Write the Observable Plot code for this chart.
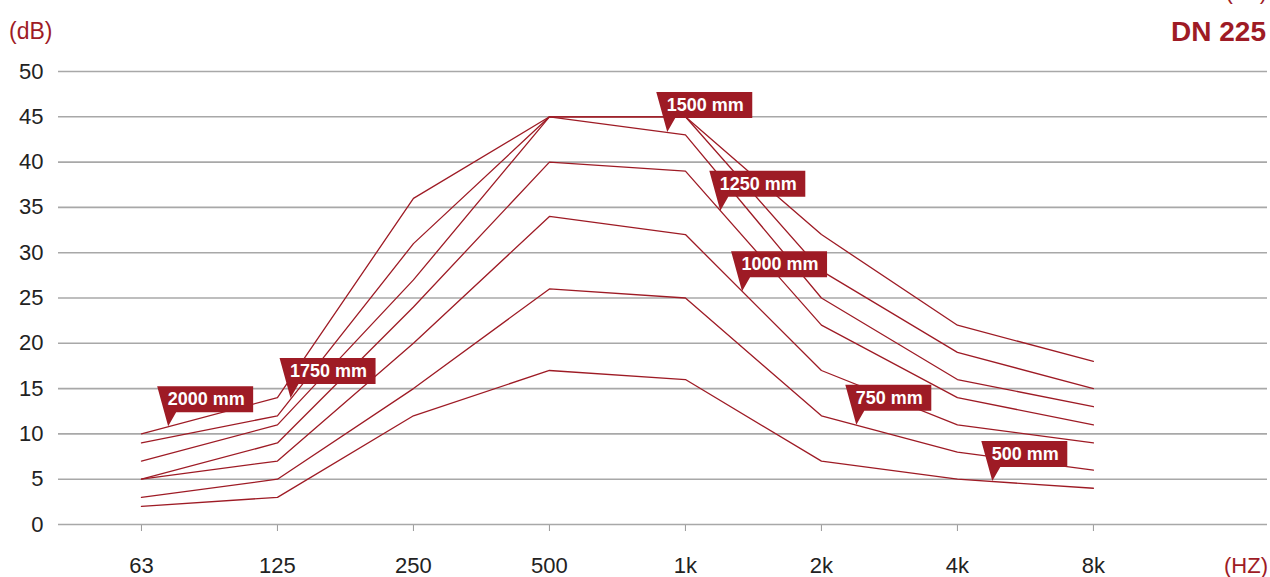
<!DOCTYPE html>
<html>
<head>
<meta charset="utf-8">
<script src="https://cdn.jsdelivr.net/npm/d3@7"></script>
<script src="https://cdn.jsdelivr.net/npm/@observablehq/plot@0.6"></script>
<style>
  html, body { margin: 0; padding: 0; background: #fff; }
  #chart { width: 1270px; height: 577px; overflow: hidden; }
</style>
</head>
<body>
<div id="chart"></div>
<script>
// ---- data ----
const freqLabels = ["63", "125", "250", "500", "1k", "2k", "4k", "8k"];
const yTicks = [0, 5, 10, 15, 20, 25, 30, 35, 40, 45, 50];

const s2000 = [10, 14, 36, 45, 45, 32, 22, 18];
const s1750 = [9, 12, 31, 45, 45, 28, 19, 15];
const s1500 = [7, 11, 27, 45, 43, 25, 16, 13];
const s1250 = [5, 9, 24, 40, 39, 22, 14, 11];
const s1000 = [5, 7, 20, 34, 32, 17, 11, 9];
const s750  = [3, 5, 15, 26, 25, 12, 8, 6];
const s500  = [2, 3, 12, 17, 16, 7, 5, 4];

const seriesNames = ["2000 mm", "1750 mm", "1500 mm", "1250 mm", "1000 mm", "750 mm", "500 mm"];
const seriesValues = [s2000, s1750, s1500, s1250, s1000, s750, s500];
// where each callout points along its line (in frequency-index units)
const labelAt = [0.2, 1.1, 3.87, 4.26, 4.42, 5.26, 6.26];

const title = "DN 225";
const yUnit = "(dB)";
const xUnit = "(HZ)";

// ---- build table ----
const rows = [];
seriesNames.forEach((name, s) => {
  seriesValues[s].forEach((v, i) => rows.push({series: name, i, v}));
});
const callouts = seriesNames.map((name, s) => {
  const t = labelAt[s];
  const i0 = Math.floor(t), f = t - i0;
  const vals = seriesValues[s];
  const v = vals[i0] + (vals[i0 + 1] - vals[i0]) * f;
  return {name, t, v};
});

const RED = "#9e1b25";
const FONT = "'Liberation Sans', Arial, Helvetica, sans-serif";

function calloutMark(index, scales) {
  const g = d3.create("svg:g");
  for (const c of callouts) {
    const tx = scales.x(c.t), ty = scales.y(c.v);
    const W = 26 + 10 * c.name.length;
    const L = tx - 11, T = ty - 40, B = ty - 14, R = L + W;
    g.append("path")
      .attr("d", `M${L},${T}L${R},${T}L${R},${B}L${L + 19},${B}L${tx},${ty}Z`)
      .attr("fill", RED);
    g.append("text")
      .attr("x", (L + R) / 2 + 1)
      .attr("y", (T + B) / 2)
      .attr("dy", "0.35em")
      .attr("text-anchor", "middle")
      .attr("fill", "#fff")
      .attr("font-weight", "bold")
      .attr("font-size", 18)
      .attr("font-family", FONT)
      .text(c.name);
  }
  return g.node();
}

const hasAxisMarks = typeof Plot.axisX === "function";

const marks = [
  Plot.ruleY(yTicks, {stroke: "#a8a8a8", strokeWidth: 1.6}),
  Plot.line(rows, {x: "i", y: "v", z: "series", stroke: RED, strokeWidth: 1.3}),
  calloutMark
];
if (hasAxisMarks) {
  marks.unshift(
    Plot.axisY(yTicks, {tickSize: 0, tickPadding: 15, fontSize: 22, fill: "#222", label: null}),
    Plot.axisX(d3.range(freqLabels.length), {tickSize: 7, tickPadding: 26, fontSize: 22, fill: "#222",
      stroke: "#999", tickFormat: (d) => freqLabels[d], label: null})
  );
}

const chart = Plot.plot({
  width: 1270,
  height: 577,
  marginTop: 71,
  marginBottom: 53,
  marginLeft: 58,
  marginRight: 3,
  style: {fontFamily: FONT, fontSize: "22px", background: "#fff", color: "#222"},
  x: {type: "linear", domain: [-0.61, 8.28], ticks: d3.range(freqLabels.length),
      tickFormat: (d) => freqLabels[d], tickSize: 7, tickPadding: 26, label: null, axis: hasAxisMarks ? null : "bottom"},
  y: {domain: [0, 50], ticks: yTicks, tickSize: 0, tickPadding: 15, label: null, axis: hasAxisMarks ? null : "left"},
  marks
});

const svg = d3.select(chart);
svg.append("text").attr("x", 9).attr("y", 31).attr("dy", "0.35em").attr("text-anchor", "start")
  .attr("fill", RED).attr("font-size", 23).attr("font-family", FONT).text(yUnit);
svg.append("text").attr("x", 1266).attr("y", 40.5).attr("text-anchor", "end")
  .attr("fill", RED).attr("font-size", 28).attr("font-weight", "bold").attr("font-family", FONT).text(title);
svg.append("text").attr("x", 1267).attr("y", -1).attr("text-anchor", "end")
  .attr("fill", RED).attr("font-size", 22).attr("font-family", FONT).text("(dB)");
svg.append("text").attr("x", 1268).attr("y", 565).attr("dy", "0.35em").attr("text-anchor", "end")
  .attr("fill", RED).attr("font-size", 22).attr("font-family", FONT).text(xUnit);

document.getElementById("chart").appendChild(chart);
</script>
</body>
</html>
